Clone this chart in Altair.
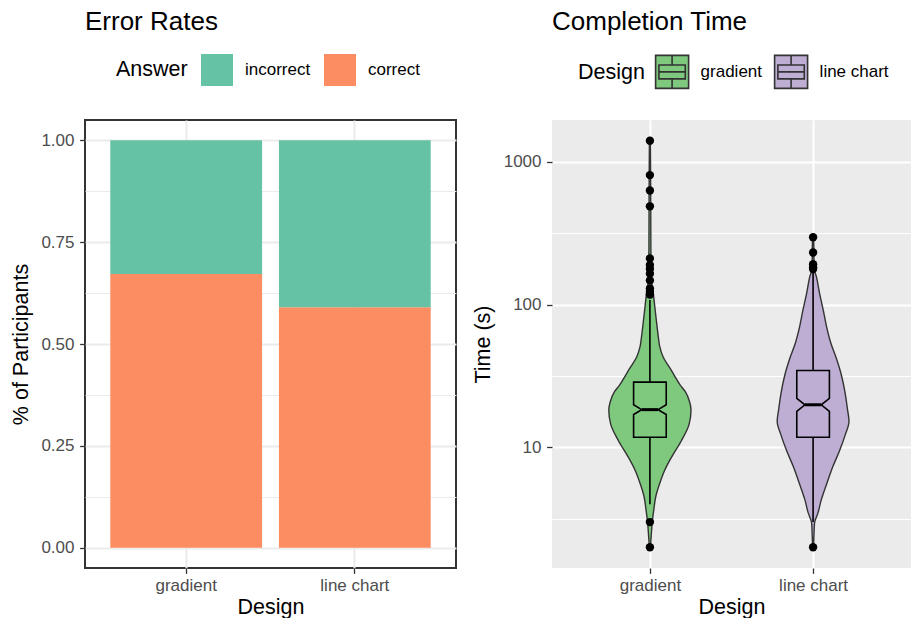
import altair as alt
import pandas as pd
import numpy as np

FONT = "Liberation Sans"

# ---------------- Error Rates (left panel) ----------------
designs = ["gradient", "line chart"]
answers = ["incorrect", "correct"]
correct_share = [0.672, 0.590]
incorrect_share = [0.328, 0.410]
answer_colors = ["#66C2A5", "#FC8D62"]
share_major = [0.0, 0.25, 0.5, 0.75, 1.0]
share_minor = [0.125, 0.375, 0.625, 0.875]

# ---------------- Completion Time (right panel) ----------------
design_colors = ["#7FC97F", "#BEAED4"]
design_pos = [1, 2]

# violin outlines: time (s) and half-width (x units)
grad_violin_time = [2.0, 2.4, 2.97, 3.67, 4.53, 5.59, 6.9, 8.53, 11.1, 14.5, 18.4, 20.9,
                    24.7, 27.3, 31.9, 35.5, 43.0, 51.0, 60.3, 78.5, 96.8, 119.7, 150, 250, 600, 1410]
grad_violin_hw = [0.003, 0.008, 0.014, 0.024, 0.036, 0.060, 0.090, 0.132, 0.192, 0.240, 0.252, 0.243,
                  0.216, 0.186, 0.150, 0.126, 0.081, 0.060, 0.051, 0.039, 0.030, 0.021, 0.009, 0.006, 0.005, 0.003]
line_violin_time = [2.0, 2.53, 2.96, 3.48, 4.29, 5.59, 7.29, 9.48, 12.35, 15.2, 18.8, 24.5,
                    31.9, 41.6, 54.2, 70.6, 91.9, 119.7, 156, 182.6, 230, 297]
line_violin_hw = [0.003, 0.006, 0.009, 0.030, 0.050, 0.084, 0.120, 0.162, 0.198, 0.220, 0.210, 0.195,
                  0.174, 0.144, 0.108, 0.082, 0.062, 0.040, 0.021, 0.005, 0.005, 0.003]

# notched boxplot statistics (per design)
q1 = [11.8, 11.8]
median = [18.4, 19.9]
q3 = [28.7, 34.6]
notch_lo = [17.0, 17.9]
notch_hi = [19.9, 22.1]
whisker_lo = [4.0, 3.0]
whisker_hi = [108, 170]
grad_outliers = [2.0, 3.0, 118, 123, 130, 148, 165, 178, 190, 211, 489, 631, 809, 1410]
line_outliers = [2.0, 178, 183, 192, 232, 297]

time_major = [10, 100, 1000]
time_minor = [3.1623, 31.623, 316.23]

BOX_HALF = 0.1
NOTCH_FRAC = 0.5

LEFT_W, LEFT_H = 371, 448
RIGHT_W, RIGHT_H = 359, 448
SPACING = 15

# ---------------- data frames ----------------
bar_df = pd.DataFrame({
    "Design": designs * 2,
    "Answer": ["correct"] * 2 + ["incorrect"] * 2,
    "share": correct_share + incorrect_share,
    "stack_order": [0, 0, 1, 1],
})

violin_rows = []
for d, p, ts, hws in [(designs[0], design_pos[0], grad_violin_time, grad_violin_hw),
                      (designs[1], design_pos[1], line_violin_time, line_violin_hw)]:
    for t, h in zip(ts, hws):
        violin_rows.append({"Design": d, "time": t, "xl": p - h, "xr": p + h})
violin_df = pd.DataFrame(violin_rows)

box_rows = []
for k, d in enumerate(designs):
    p = design_pos[k]
    pts = [(q1[k], BOX_HALF), (notch_lo[k], BOX_HALF), (median[k], BOX_HALF * NOTCH_FRAC),
           (notch_hi[k], BOX_HALF), (q3[k], BOX_HALF)]
    for t, h in pts:
        box_rows.append({"Design": d, "time": t, "xl": p - h, "xr": p + h})
box_df = pd.DataFrame(box_rows)

stat_df = pd.DataFrame({
    "Design": designs, "pos": design_pos, "q1": q1, "median": median, "q3": q3,
    "wlo": whisker_lo, "whi": whisker_hi,
    "ml": [p - BOX_HALF * NOTCH_FRAC for p in design_pos],
    "mr": [p + BOX_HALF * NOTCH_FRAC for p in design_pos],
})

out_df = pd.DataFrame({
    "Design": [designs[0]] * len(grad_outliers) + [designs[1]] * len(line_outliers),
    "pos": [design_pos[0]] * len(grad_outliers) + [design_pos[1]] * len(line_outliers),
    "time": grad_outliers + line_outliers,
})

# ---------------- left chart ----------------
share_major_test = "abs(datum.value*4 - round(datum.value*4)) < 0.001"
left = alt.Chart(bar_df).mark_bar().encode(
    x=alt.X("Design:N", sort=designs,
            scale=alt.Scale(paddingInner=0.1, paddingOuter=0.15),
            axis=alt.Axis(title="Design", labelAngle=0, grid=True, bandPosition=0.5,
                          gridColor="#EBEBEB", gridWidth=2, domain=False)),
    y=alt.Y("share:Q", stack="zero",
            scale=alt.Scale(domain=[-0.05, 1.05], nice=False, zero=False),
            axis=alt.Axis(title="% of Participants", values=share_major + share_minor,
                          format=".2f", domain=False,
                          labelExpr=f"({share_major_test}) ? datum.label : ''",
                          gridColor="#EBEBEB",
                          gridWidth={"condition": {"test": share_major_test, "value": 2}, "value": 1},
                          tickOpacity={"condition": {"test": share_major_test, "value": 1}, "value": 0})),
    color=alt.Color("Answer:N", scale=alt.Scale(domain=answers, range=answer_colors),
                    legend=alt.Legend(orient="none", legendX=31, legendY=-66, direction="horizontal",
                                      title="Answer", titleOrient="left", titleAnchor="middle",
                                      titleBaseline="middle", titlePadding=13,
                                      symbolType="square", symbolSize=1024, symbolStrokeWidth=0,
                                      symbolOpacity=1, labelOffset=12, columnPadding=13)),
    order=alt.Order("stack_order:Q", sort="ascending"),
).properties(
    width=LEFT_W, height=LEFT_H,
    title=alt.TitleParams("Error Rates", anchor="start", frame="group"),
    view=alt.ViewBackground(stroke="#333333", strokeWidth=2, fill="white"),
)

# ---------------- right chart ----------------
xscale = alt.Scale(domain=[0.4, 2.6], nice=False, zero=False)
yscale = alt.Scale(type="log", domain=[1.43, 1968], nice=False)
time_major_test = "abs(log(datum.value)/LN10 - round(log(datum.value)/LN10)) < 0.01"
label_expr = f"['{designs[0]}', '{designs[1]}'][datum.value - 1]"

xaxis = alt.Axis(title="Design", values=design_pos, labelExpr=label_expr, grid=True,
                 gridColor="white", gridWidth=2, domain=False)
yaxis = alt.Axis(title="Time (s)", values=time_major + time_minor, format="d", domain=False,
                 labelExpr=f"({time_major_test}) ? datum.label : ''",
                 gridColor="white",
                 gridWidth={"condition": {"test": time_major_test, "value": 2}, "value": 1},
                 tickOpacity={"condition": {"test": time_major_test, "value": 1}, "value": 0})

box_glyph = ("M-1,-1L1,-1L1,1L-1,1Z M-0.8,-0.42L0.8,-0.42L0.8,0.42L-0.8,0.42Z "
             "M-0.8,0L0.8,0 M0,-1L0,-0.42 M0,0.42L0,1")

# legends of concatenated views live in the root group, whose origin is the left plot's corner
right_legend_x = 493

violin = alt.Chart(violin_df).mark_area(
    orient="horizontal", interpolate="monotone", stroke="#333333", strokeWidth=1.4, opacity=1
).encode(
    y=alt.Y("time:Q", scale=yscale, axis=yaxis, sort="ascending"),
    x=alt.X("xl:Q", scale=xscale, axis=xaxis, stack=None),
    x2="xr:Q",
    fill=alt.Fill("Design:N", scale=alt.Scale(domain=designs, range=design_colors),
                  legend=alt.Legend(orient="none", legendX=right_legend_x, legendY=-66,
                                    direction="horizontal",
                                    title="Design", titleOrient="left", titleAnchor="middle",
                                    titleBaseline="middle", titlePadding=9.6,
                                    symbolType=box_glyph, symbolSize=1089,
                                    symbolStrokeColor="#333333", symbolStrokeWidth=1.6,
                                    symbolOpacity=1, labelOffset=11, columnPadding=8)),
)

whisk_hi = alt.Chart(stat_df).mark_rule(color="black", strokeWidth=1.6).encode(
    x=alt.X("pos:Q", scale=xscale), y=alt.Y("q3:Q", scale=yscale), y2="whi:Q")
whisk_lo = alt.Chart(stat_df).mark_rule(color="black", strokeWidth=1.6).encode(
    x=alt.X("pos:Q", scale=xscale), y=alt.Y("q1:Q", scale=yscale), y2="wlo:Q")

box = alt.Chart(box_df).mark_area(
    orient="horizontal", interpolate="linear", stroke="black", strokeWidth=1.6, opacity=1
).encode(
    y=alt.Y("time:Q", scale=yscale, sort="ascending"),
    x=alt.X("xl:Q", scale=xscale, stack=None),
    x2="xr:Q",
    fill=alt.Fill("Design:N", scale=alt.Scale(domain=designs, range=design_colors), legend=None),
)

med = alt.Chart(stat_df).mark_rule(color="black", strokeWidth=3).encode(
    x=alt.X("ml:Q", scale=xscale), x2="mr:Q", y=alt.Y("median:Q", scale=yscale))

outl = alt.Chart(out_df).mark_circle(color="black", size=70, opacity=1).encode(
    x=alt.X("pos:Q", scale=xscale), y=alt.Y("time:Q", scale=yscale))

right = alt.layer(violin, whisk_hi, whisk_lo, box, med, outl).properties(
    width=RIGHT_W, height=RIGHT_H,
    title=alt.TitleParams("Completion Time", anchor="start", frame="group"),
    view=alt.ViewBackground(fill="#EBEBEB", strokeWidth=0),
)

chart = alt.hconcat(left, right, spacing=SPACING).properties(
    padding={"left": 1, "top": 0, "right": 0, "bottom": -1}
).configure(
    font=FONT,
).configure_axis(
    labelFont=FONT, titleFont=FONT, labelFontSize=17, titleFontSize=21.5,
    labelColor="#4D4D4D", titleColor="black", titleFontWeight="normal",
    tickColor="#333333", tickSize=5.4, tickWidth=1.3,
).configure_axisX(
    labelPadding=4, titlePadding=3,
).configure_axisY(
    labelPadding=5.6, titlePadding=8.9,
).configure_legend(
    labelFont=FONT, titleFont=FONT, labelFontSize=17, titleFontSize=21.5,
    labelColor="black", titleColor="black", titleFontWeight="normal",
).configure_title(
    font=FONT, fontSize=26, fontWeight="normal", color="black", offset=85,
)

chart.save("out.html", embed_options={"renderer": "svg", "actions": False})
